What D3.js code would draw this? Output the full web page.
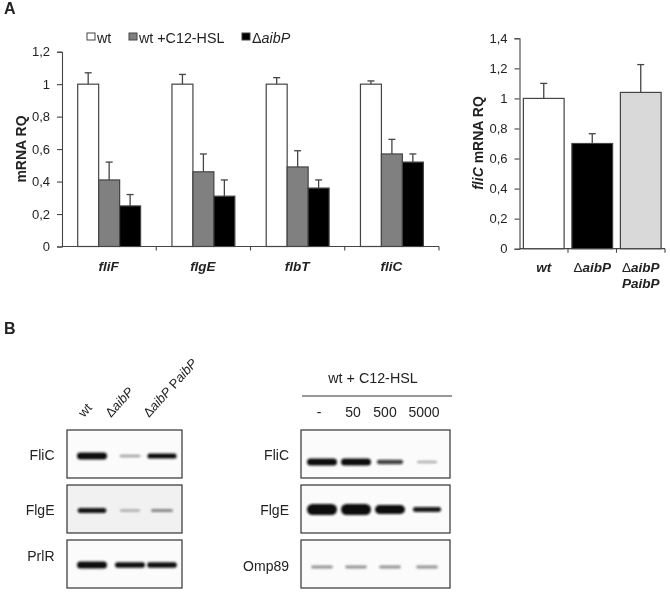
<!DOCTYPE html>
<html lang="en">

<head>
    <meta charset="utf-8">
    <title>aibP mRNA and blots</title>
    <script src="https://d3js.org/d3.v7.min.js" charset="utf-8"></script>
    <style type="text/css">
        html, body { margin: 0; padding: 0; background: #fff; }
        svg { display: block; }
        text { font-family: 'Liberation Sans', Arial, sans-serif; fill: #222; }
    </style>
</head>

<body>
<svg id="svg" width="670" height="593"></svg>

<script type="text/javascript">
    // panel A, left chart
    var genes = ['fliF', 'flgE', 'flbT', 'fliC'];
    var seriesNames = ['wt', 'wt +C12-HSL', 'aibP'];
    var wtValues = [1, 1, 1, 1];
    var c12Values = [0.41, 0.46, 0.49, 0.57];
    var aibpValues = [0.25, 0.31, 0.36, 0.52];
    var wtTops = [1.07, 1.06, 1.04, 1.02];
    var c12Tops = [0.52, 0.57, 0.59, 0.66];
    var aibpTops = [0.32, 0.41, 0.41, 0.57];
    var leftTicks = [0, 0.2, 0.4, 0.6, 0.8, 1, 1.2];

    // panel A, right chart
    var strains = ['wt', 'aibP', 'aibP PaibP'];
    var fliCValues = [1, 0.70, 1.04];
    var fliCTops = [1.10, 0.765, 1.225];
    var rightTicks = [0, 0.2, 0.4, 0.6, 0.8, 1, 1.2, 1.4];

    // panel B, band strength read by eye, 0 to 1
    var blotStrains = ['wt', 'aibP', 'aibP PaibP'];
    var leftBlotNames = ['FliC', 'FlgE', 'PrlR'];
    var leftBlotBands = [[0.85, 0.25, 0.75], [0.72, 0.2, 0.32], [0.86, 0.8, 0.78]];
    var doses = ['-', '50', '500', '5000'];
    var rightBlotNames = ['FliC', 'FlgE', 'Omp89'];
    var rightBlotBands = [[0.86, 0.86, 0.58, 0.2], [1, 1, 0.92, 0.7], [0.3, 0.3, 0.3, 0.3]];

    var seriesColors = ['#fff', '#808080', '#000'];
    var strainColors = ['#fff', '#000', '#d9d9d9'];
    var lineColor = '#444';

    var svg = d3.select('svg');

    var defs = svg.append('defs');
    defs.append('filter').attr('id', 'soft').append('feGaussianBlur').attr('stdDeviation', 0.4);
    defs.append('filter').attr('id', 'band')
        .attr('x', '-30%').attr('y', '-150%').attr('width', '160%').attr('height', '400%')
        .append('feGaussianBlur').attr('stdDeviation', 1.3);

    var page = svg.append('g').attr('filter', 'url(#soft)');

    function italicDelta(sel, name, size) {
        // the delta sign stays upright, the gene name is italic
        sel.attr('font-size', size);
        sel.append('tspan').text('\u0394');
        sel.append('tspan').text(name).attr('font-style', 'italic');
    }

    function drawAxis(g, y, ticks, xLeft, xRight, tickXs) {
        var axis = d3.axisLeft(y).tickValues(ticks).tickSize(5).tickPadding(7)
            .tickFormat(function (d) { return String(d).replace('.', ','); });
        var yAxis = g.append('g').attr('transform', 'translate(' + xLeft + ',0)').call(axis);
        yAxis.selectAll('path, line').attr('stroke', lineColor).attr('stroke-width', 1.1);
        yAxis.selectAll('text').attr('font-size', 13);
        yAxis.attr('font-family', null);

        var base = y(0);
        g.append('line').attr('x1', xLeft).attr('x2', xRight).attr('y1', base).attr('y2', base)
            .attr('stroke', lineColor).attr('stroke-width', 1.2);
        g.selectAll('.xtick').data(tickXs).enter().append('line')
            .attr('class', 'xtick')
            .attr('x1', function (d) { return d; }).attr('x2', function (d) { return d; })
            .attr('y1', base).attr('y2', base + 4)
            .attr('stroke', lineColor).attr('stroke-width', 1.1);
    }

    function drawBar(g, x, w, value, top, y, color) {
        var capHalf = 3.5;
        var mid = x + w / 2;
        g.append('line').attr('x1', mid).attr('x2', mid).attr('y1', y(value)).attr('y2', y(top))
            .attr('stroke', lineColor).attr('stroke-width', 1.3);
        g.append('line').attr('x1', mid - capHalf).attr('x2', mid + capHalf).attr('y1', y(top)).attr('y2', y(top))
            .attr('stroke', lineColor).attr('stroke-width', 1.3);
        g.append('rect').attr('x', x).attr('y', y(value)).attr('width', w).attr('height', y(0) - y(value))
            .attr('fill', color).attr('stroke', lineColor).attr('stroke-width', 1.2);
    }

    // left chart
    var chartA = page.append('g');
    var yA = d3.scaleLinear().domain([0, 1.2]).range([246.5, 51.7]);
    var xA = d3.scaleBand().domain(genes).range([62, 439]);
    var xSeries = d3.scaleBand().domain(seriesNames).range([15.7, 78.6]);
    var valuesA = [wtValues, c12Values, aibpValues];
    var topsA = [wtTops, c12Tops, aibpTops];

    drawAxis(chartA, yA, leftTicks, 62, 439, genes.map(function (g) { return xA(g) + xA.bandwidth(); }));

    genes.forEach(function (gene, i) {
        seriesNames.forEach(function (name, s) {
            drawBar(chartA, xA(gene) + xSeries(name), xSeries.bandwidth(), valuesA[s][i], topsA[s][i], yA, seriesColors[s]);
        });
        chartA.append('text').attr('x', xA(gene) + xA.bandwidth() / 2 - 0.5).attr('y', 271)
            .attr('text-anchor', 'middle').attr('font-size', 13.5)
            .attr('font-weight', 'bold').attr('font-style', 'italic').text(gene);
    });

    chartA.append('text').attr('transform', 'translate(26,149) rotate(-90)')
        .attr('text-anchor', 'middle').attr('font-size', 14).attr('font-weight', 'bold').text('mRNA RQ');

    // legend
    var legendXs = [87, 129, 242];
    seriesNames.forEach(function (name, s) {
        chartA.append('rect').attr('x', legendXs[s]).attr('y', 33).attr('width', 8).attr('height', 7)
            .attr('fill', seriesColors[s]).attr('stroke', lineColor).attr('stroke-width', 1);
        var t = chartA.append('text').attr('x', legendXs[s] + 10).attr('y', 43);
        if (s === 2) {
            italicDelta(t, name, 14.3);
        } else {
            t.attr('font-size', 14.3).text(name);
        }
    });

    // right chart
    var chartR = page.append('g');
    var yR = d3.scaleLinear().domain([0, 1.4]).range([248.7, 38.3]);
    var xR = d3.scaleBand().domain(strains).range([519.5, 665]).paddingInner(0.16).paddingOuter(0.08);
    var stepR = (665 - 519.5) / strains.length;

    drawAxis(chartR, yR, rightTicks, 519.5, 665, strains.map(function (s, i) { return 519.5 + stepR * (i + 1); }));

    strains.forEach(function (strain, i) {
        drawBar(chartR, xR(strain), xR.bandwidth(), fliCValues[i], fliCTops[i], yR, strainColors[i]);
        var cx = xR(strain) + xR.bandwidth() / 2;
        var parts = strain.split(' ');
        parts.forEach(function (part, line) {
            var t = chartR.append('text').attr('x', cx).attr('y', 272 + line * 16)
                .attr('text-anchor', 'middle').attr('font-size', 13.5)
                .attr('font-weight', 'bold').attr('font-style', 'italic');
            if (part === 'aibP') {
                t.append('tspan').text('\u0394').attr('font-weight', 'normal').attr('font-style', 'normal');
            }
            t.append('tspan').text(part);
        });
    });

    var titleR = chartR.append('text').attr('transform', 'translate(483,143) rotate(-90)')
        .attr('text-anchor', 'middle').attr('font-size', 14).attr('font-weight', 'bold');
    titleR.append('tspan').text('fliC').attr('font-style', 'italic');
    titleR.append('tspan').text(' mRNA RQ');

    // panel letters
    page.append('text').attr('x', 4).attr('y', 14).attr('font-size', 16).attr('font-weight', 'bold').text('A');
    page.append('text').attr('x', 4).attr('y', 334).attr('font-size', 16).attr('font-weight', 'bold').text('B');

    // blots
    var boxTops = [430, 485, 540];
    var boxHeight = 48;
    var bandWidth = d3.scaleLinear().domain([0.2, 0.8]).range([20, 30]).clamp(true);
    var bandHeight = d3.scaleLinear().domain([0.2, 0.8, 1]).range([2.4, 5.4, 11]);
    var bandOpacity = d3.scaleLinear().domain([0.2, 0.75]).range([0.32, 1]).clamp(true);

    function drawBlots(names, bands, x, labelX, laneXs, centreY, labelY) {
        var lanes = d3.scaleOrdinal().domain(d3.range(bands[0].length)).range(laneXs);
        names.forEach(function (name, b) {
            var top = boxTops[b];
            page.append('rect').attr('x', x[0]).attr('y', top).attr('width', x[1] - x[0]).attr('height', boxHeight)
                .attr('fill', (name === 'FlgE' && x[0] < 200) ? '#f1f1f1' : '#fbfbfb')
                .attr('stroke', '#333').attr('stroke-width', 1.2);
            page.append('g').selectAll('rect').data(bands[b]).enter().append('rect')
                .attr('x', function (d, i) { return lanes(i) - bandWidth(d) / 2; })
                .attr('y', function (d) { return centreY[b] - bandHeight(d) / 2; })
                .attr('width', function (d) { return bandWidth(d); })
                .attr('height', function (d) { return bandHeight(d); })
                .attr('rx', function (d) { return bandHeight(d) / 2; })
                .attr('fill', '#111')
                .attr('opacity', function (d) { return bandOpacity(d); })
                .attr('filter', 'url(#band)');
            page.append('text').attr('x', labelX).attr('y', labelY[b])
                .attr('text-anchor', 'end').attr('font-size', 14).text(name);
        });
    }

    drawBlots(leftBlotNames, leftBlotBands, [67, 182], 54.5, [92, 130, 162], [456, 510.5, 565], [460, 515, 561]);
    drawBlots(rightBlotNames, rightBlotBands, [301, 450], 289, [322, 356, 390, 427], [462, 509.5, 567], [460, 515, 571]);

    // lane labels over the left blots
    var laneLabels = d3.scaleOrdinal().domain(blotStrains).range([84, 111, 149]);
    blotStrains.forEach(function (name) {
        var t = page.append('text')
            .attr('transform', 'translate(' + laneLabels(name) + ',418) rotate(-48)')
            .attr('font-size', 13);
        if (name === 'wt') {
            t.text(name);
        } else {
            t.append('tspan').text('\u0394');
            t.append('tspan').text('aibP').attr('font-style', 'italic');
            if (name !== 'aibP') {
                t.append('tspan').text(' P');
                t.append('tspan').text('aibP').attr('font-style', 'italic');
            }
        }
    });

    // dose header over the right blots
    page.append('text').attr('x', 373).attr('y', 383).attr('text-anchor', 'middle').attr('font-size', 14.3).text('wt + C12-HSL');
    page.append('line').attr('x1', 302).attr('x2', 452).attr('y1', 396).attr('y2', 396)
        .attr('stroke', '#333').attr('stroke-width', 1);
    var doseX = d3.scaleOrdinal().domain(doses).range([319, 353, 385, 424]);
    doses.forEach(function (d) {
        page.append('text').attr('x', doseX(d)).attr('y', 417).attr('text-anchor', 'middle').attr('font-size', 14).text(d);
    });
</script>
</body>

</html>
